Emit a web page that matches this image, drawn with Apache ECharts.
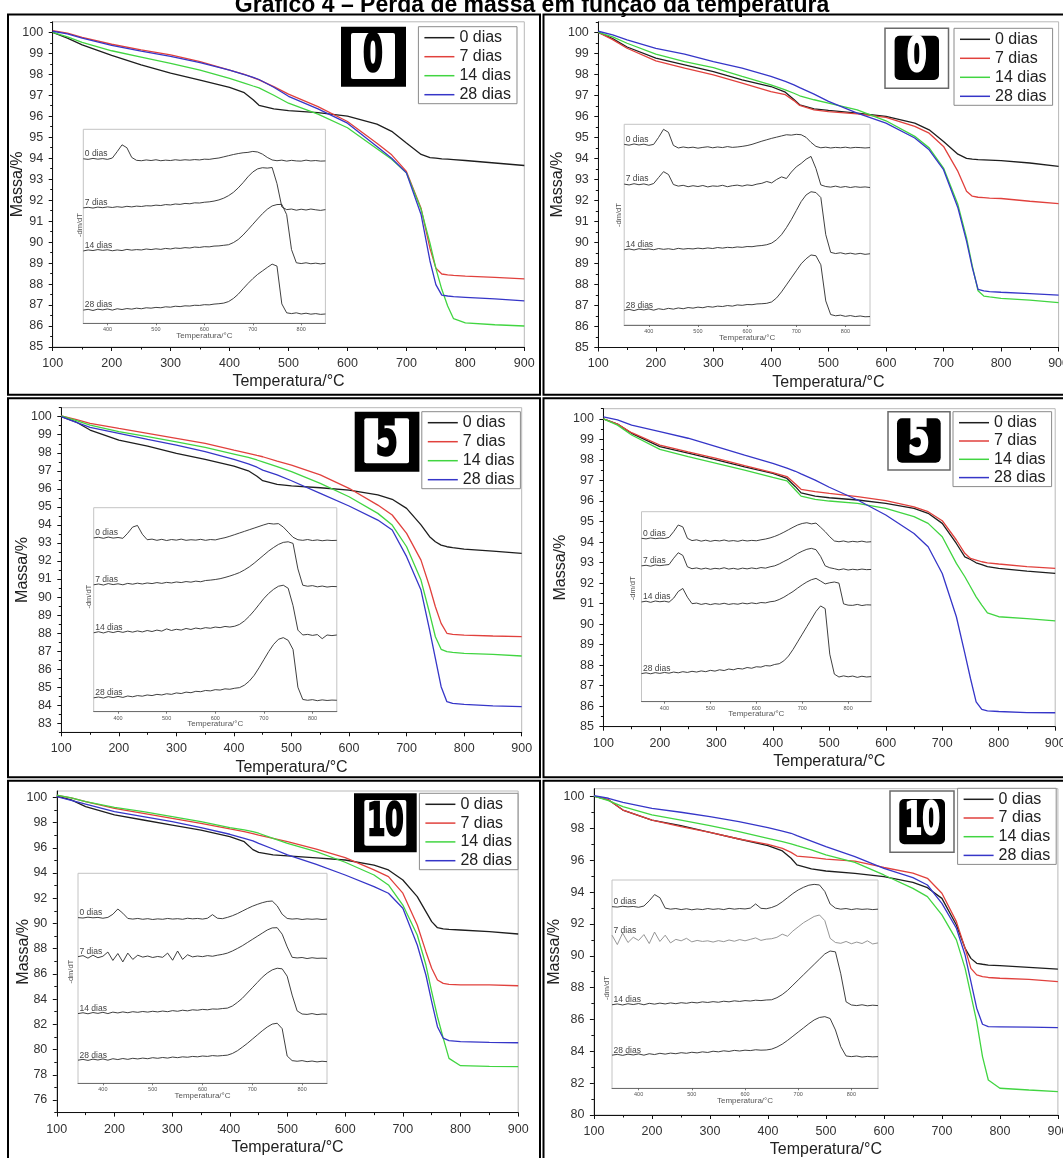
<!DOCTYPE html>
<html><head><meta charset="utf-8">
<script src="https://cdn.jsdelivr.net/npm/echarts@6/dist/echarts.min.js"></script>
<style>html,body{margin:0;padding:0;background:#fff}#c{width:1063px;height:1158px}</style>
</head><body><div id="c"></div>
<script>
// ---------------- DATA ----------------
const TITLE = 'Gráfico 4 – Perda de massa em função da temperatura';
const SERIES_NAMES = ['0 dias', '7 dias', '14 dias', '28 dias'];
const PANEL_TAGS = ['0', '0', '5', '5', '10', '10'];
const X_RANGE = [100, 900];
const INSET_X_RANGE = [350, 850];
const INSET_X_LABELS = [400, 500, 600, 700, 800];

const TGA_T = [100,125,150,200,250,300,350,400,425,440,450,475,500,550,600,650,675,700,725,740,750,760,770,780,800,850,900];

// Panel A (top left, 0)
const tgaA0 = [100.0,99.72,99.4,98.9,98.45,98.05,97.72,97.37,97.12,96.78,96.52,96.35,96.27,96.17,96.0,95.62,95.28,94.72,94.18,94.03,94.0,93.97,93.95,93.93,93.89,93.77,93.65];
const tgaA7 = [100.08,99.96,99.76,99.43,99.16,98.92,98.6,98.2,98.0,97.84,97.73,97.41,97.05,96.46,95.75,94.71,94.16,93.37,91.6,89.7,88.76,88.48,88.44,88.41,88.38,88.32,88.25];
const tgaA14 = [100.0,99.78,99.52,99.12,98.82,98.52,98.2,97.8,97.58,97.44,97.35,97.0,96.62,96.1,95.45,94.45,93.95,93.3,91.55,89.95,88.75,87.75,86.95,86.35,86.15,86.06,86.0];
const tgaA28 = [100.05,99.92,99.72,99.38,99.1,98.85,98.55,98.2,97.98,97.85,97.75,97.38,96.95,96.35,95.67,94.56,94.0,93.3,91.3,89.1,87.97,87.47,87.43,87.4,87.37,87.29,87.2];
// Panel B (top right, 0)
const tgaB0 = [100.0,99.7,99.3,98.77,98.45,98.13,97.74,97.42,97.15,96.8,96.55,96.36,96.28,96.15,96.0,95.68,95.36,94.8,94.2,94.0,93.96,93.94,93.93,93.92,93.89,93.78,93.62];
const tgaB7 = [100.0,99.65,99.24,98.64,98.29,97.97,97.58,97.18,97.03,96.75,96.52,96.31,96.23,96.12,95.95,95.52,95.2,94.57,93.38,92.44,92.2,92.15,92.13,92.11,92.09,91.96,91.85];
const tgaB14 = [100.0,99.78,99.48,98.96,98.6,98.32,97.9,97.5,97.26,97.1,96.98,96.79,96.63,96.31,95.79,95.05,94.5,93.54,91.8,90.22,88.88,87.7,87.45,87.41,87.34,87.25,87.14];
const tgaB28 = [100.05,99.88,99.64,99.24,98.96,98.6,98.29,97.9,97.66,97.5,97.37,97.06,96.71,96.15,95.68,94.97,94.41,93.46,91.65,90.06,88.8,87.77,87.69,87.66,87.63,87.56,87.49];
// Panel C (middle left, 5)
const tgaC0 = [100.0,99.72,99.26,98.7,98.37,97.97,97.63,97.26,97.0,96.7,96.45,96.25,96.16,96.06,95.93,95.66,95.42,94.92,94.0,93.35,93.07,92.88,92.79,92.74,92.66,92.55,92.42];
const tgaC7 = [100.04,99.85,99.63,99.35,99.08,98.8,98.52,98.15,97.97,97.85,97.78,97.54,97.32,96.77,96.03,95.1,94.55,93.53,92.05,90.57,89.46,88.54,87.99,87.93,87.89,87.84,87.8];
const tgaC14 = [100.04,99.8,99.54,99.17,98.89,98.61,98.3,97.93,97.74,97.6,97.5,97.23,96.95,96.3,95.56,94.64,93.99,92.79,90.94,89.1,87.8,87.1,86.97,86.93,86.88,86.82,86.73];
const tgaC28 = [100.0,99.7,99.41,99.08,98.74,98.43,98.06,97.63,97.38,97.2,97.04,96.77,96.45,95.75,95.05,94.27,93.72,92.24,90.39,88.17,86.6,85.03,84.2,84.1,84.05,83.97,83.92];
// Panel D (middle right, 5)
const tgaD0 = [100.0,99.75,99.3,98.65,98.33,98.0,97.67,97.35,97.1,96.7,96.4,96.24,96.16,96.05,95.89,95.64,95.4,94.91,93.93,93.28,93.15,92.99,92.9,92.8,92.72,92.58,92.47];
const tgaD7 = [100.0,99.75,99.33,98.73,98.4,98.08,97.72,97.38,97.19,96.83,96.57,96.46,96.37,96.21,96.02,95.72,95.48,95.04,94.1,93.45,93.2,93.12,93.04,92.99,92.93,92.8,92.72];
const tgaD14 = [100.0,99.7,99.22,98.52,98.16,97.84,97.51,97.15,96.98,96.54,96.24,96.08,96.0,95.89,95.64,95.24,94.91,94.26,92.96,92.31,91.82,91.33,90.93,90.55,90.36,90.27,90.16];
const tgaD28 = [100.1,99.95,99.7,99.38,99.06,98.65,98.24,97.84,97.6,97.45,97.32,97.02,96.67,96.05,95.32,94.42,93.77,92.47,90.36,88.57,87.35,86.21,85.84,85.77,85.74,85.69,85.68];
// Panel E (bottom left, 10)
const tgaE0 = [100.1,99.8,99.26,98.6,98.2,97.8,97.4,96.88,96.48,95.85,95.64,95.43,95.35,95.2,95.03,94.63,94.24,93.44,92.12,90.93,90.14,89.66,89.56,89.53,89.48,89.35,89.16];
const tgaE7 = [100.15,99.95,99.66,99.13,98.73,98.33,97.94,97.49,97.28,97.12,97.01,96.75,96.48,95.9,95.22,94.24,93.71,92.4,89.88,87.76,86.44,85.51,85.25,85.17,85.12,85.12,85.06];
const tgaE14 = [100.18,99.95,99.66,99.21,98.86,98.47,98.07,97.59,97.41,97.28,97.15,96.75,96.35,95.69,94.85,93.84,93.05,91.46,89.08,86.7,84.6,82.6,80.9,79.3,78.72,78.66,78.64];
const tgaE28 = [100.05,99.75,99.45,98.86,98.47,98.07,97.59,97.07,96.75,96.55,96.35,95.9,95.43,94.69,93.84,92.92,92.39,91.2,88.29,85.91,83.8,81.81,80.9,80.7,80.62,80.57,80.54];
// Panel F (bottom right, 10)
const tgaF0 = [100.04,99.8,99.16,98.53,98.18,97.76,97.34,96.92,96.59,96.13,95.71,95.46,95.33,95.18,94.97,94.62,94.28,93.61,91.94,90.47,89.84,89.53,89.47,89.42,89.38,89.28,89.17];
const tgaF7 = [100.04,99.8,99.16,98.53,98.12,97.76,97.34,97.0,96.75,96.5,96.27,96.19,96.08,95.95,95.55,95.2,94.87,93.93,92.15,90.47,89.21,88.8,88.69,88.64,88.59,88.52,88.38];
const tgaF14 = [100.04,99.75,99.37,98.85,98.53,98.18,97.8,97.38,97.17,97.04,96.92,96.65,96.34,95.87,95.08,94.24,93.72,92.57,91.0,89.21,87.54,85.86,83.67,82.2,81.68,81.57,81.47];
const tgaF28 = [100.06,99.9,99.64,99.27,99.02,98.74,98.43,98.05,97.84,97.7,97.55,97.21,96.86,96.23,95.5,94.91,94.45,93.3,91.73,90.05,88.38,86.71,85.7,85.55,85.54,85.52,85.49];

// DTG insets (arbitrary units, 0 = inset bottom, 100 = inset top)
const DTG_T = [350,360,370,380,390,400,410,420,430,440,450,460,470,480,490,500,510,520,530,540,550,560,570,580,590,600,610,620,630,640,650,660,670,680,690,700,710,720,730,740,750,760,770,780,790,800,810,820,830,840,850];

const dtgA0 = [84.8,84.5,85.0,84.6,84.9,84.5,85.2,88.5,92.0,90.5,85.5,84.0,83.8,84.2,83.9,84.3,83.8,84.1,83.9,84.3,84.0,84.3,84.1,84.4,84.2,84.6,84.5,84.9,85.2,85.8,86.4,87.0,87.5,87.9,88.1,88.6,88.3,87.2,85.5,84.2,83.8,84.1,83.6,84.0,83.7,83.6,84.1,83.7,83.9,83.6,83.7];
const dtgA7 = [59.5,59.8,59.4,59.9,59.6,60.0,59.7,60.1,59.8,60.3,60.0,60.4,60.2,60.6,60.5,60.9,60.7,61.2,61.0,61.5,61.3,61.8,61.6,62.1,62.0,62.4,62.6,63.0,63.6,64.5,65.8,67.5,69.8,72.5,75.5,78.0,79.6,80.2,80.0,80.3,72.0,60.0,58.6,58.9,58.3,58.8,58.4,58.9,58.5,58.2,58.6];
const dtgA14 = [37.3,37.8,37.5,38.0,37.6,37.9,37.4,37.8,37.5,38.1,37.7,38.0,37.8,38.3,38.0,38.4,38.1,38.6,38.3,38.8,38.6,39.0,38.8,39.3,39.1,39.5,39.4,39.8,39.9,40.2,40.5,41.6,43.2,45.5,48.2,51.0,53.8,56.5,58.8,60.5,61.2,61.3,56.0,38.0,31.2,30.8,31.2,30.7,31.0,30.6,30.9];
const dtgA28 = [6.8,7.2,6.6,7.3,6.9,7.4,6.8,7.5,7.1,7.6,7.3,7.8,7.5,8.0,7.8,8.2,8.0,8.5,8.3,8.8,8.6,9.0,8.9,9.3,9.2,9.6,9.5,9.9,10.1,10.4,11.2,12.8,15.0,17.8,20.5,23.0,25.2,27.0,28.8,30.5,29.5,10.0,5.4,5.0,5.4,4.8,5.2,4.7,5.0,4.6,4.8];

const dtgB0 = [90.0,89.6,90.2,89.7,90.1,89.5,90.0,93.5,97.5,96.0,89.5,88.2,88.7,88.3,88.6,88.1,88.5,88.8,88.3,88.7,88.4,88.9,88.5,88.7,89.0,89.4,90.0,90.8,91.6,92.3,93.0,93.6,94.2,94.8,94.6,95.0,94.8,93.5,91.0,89.0,88.3,88.6,88.2,88.5,88.3,88.6,88.2,88.5,88.4,88.2,88.4];
const dtgB7 = [70.2,69.8,70.4,69.9,70.3,69.7,70.5,73.5,76.4,75.0,70.0,69.2,69.6,68.9,69.4,69.0,69.5,68.8,69.3,69.1,69.6,68.9,69.4,69.7,69.2,69.8,69.5,70.2,70.6,71.5,70.8,72.5,73.8,73.0,76.2,78.8,80.5,82.6,84.0,78.0,69.8,69.0,68.7,69.2,68.6,69.0,68.5,68.9,68.6,68.8,68.5];
const dtgB14 = [37.5,37.9,37.4,38.0,37.6,37.9,37.5,38.1,37.7,38.0,37.6,38.2,37.8,38.1,37.9,38.3,38.0,38.4,38.1,38.6,38.3,38.7,38.5,38.9,38.7,39.1,39.0,39.4,39.6,40.0,40.8,42.5,45.0,48.5,52.5,57.0,61.5,64.8,66.4,66.0,63.5,45.0,36.2,35.6,36.0,35.4,35.8,35.3,35.7,35.2,35.5];
const dtgB28 = [7.3,7.8,7.2,7.9,7.5,8.0,7.4,8.1,7.7,8.3,7.9,8.5,8.1,8.7,8.4,8.9,8.6,9.2,8.9,9.4,9.2,9.7,9.4,10.0,9.8,10.2,10.1,10.5,10.6,10.8,11.5,13.5,16.5,20.0,23.5,27.0,30.5,33.0,34.9,34.5,30.0,12.0,5.2,4.6,4.9,4.3,4.7,4.2,4.5,4.1,4.2];

const dtgC0 = [85.2,85.5,85.0,85.6,85.1,85.4,85.0,87.5,90.5,91.3,87.0,84.3,84.6,84.0,84.5,83.9,84.4,84.1,84.6,84.0,84.3,84.1,84.5,84.0,84.4,84.2,84.8,85.3,86.0,86.8,87.6,88.4,89.2,90.0,90.8,91.6,92.3,92.0,92.2,90.5,88.0,85.5,84.3,84.0,84.4,83.9,84.2,83.8,84.1,83.9,84.0];
const dtgC7 = [62.2,62.6,62.1,62.8,62.3,62.7,62.2,62.9,62.5,63.0,62.6,63.1,62.8,63.3,62.9,63.4,63.1,63.6,63.3,63.8,63.5,64.0,63.7,64.3,64.5,64.8,65.2,65.8,66.5,67.3,68.2,69.5,71.0,72.8,74.8,76.8,78.8,80.5,82.0,83.0,83.3,82.5,70.0,62.0,61.5,61.8,61.2,61.6,61.1,61.4,61.3];
const dtgC14 = [38.7,39.2,38.6,39.3,38.8,39.4,38.9,39.5,39.0,39.6,39.1,39.8,39.3,40.0,39.5,40.6,39.8,40.4,40.0,40.8,40.3,41.0,40.6,41.2,40.9,41.5,41.2,41.8,41.5,41.9,42.8,44.5,46.8,49.5,52.5,55.5,58.0,60.0,61.5,62.0,60.5,52.0,40.0,37.6,37.9,37.4,37.8,35.8,37.6,37.3,37.6];
const dtgC28 = [6.8,7.2,6.7,7.4,6.9,7.5,7.0,7.7,7.3,7.9,7.6,8.2,7.9,8.5,8.2,8.8,8.5,9.2,8.9,9.6,9.3,10.0,9.8,10.4,10.2,10.8,10.6,11.2,11.0,11.5,11.8,13.0,15.0,17.8,21.5,25.5,29.5,33.0,35.5,36.3,35.0,30.5,12.0,6.0,5.6,5.9,5.4,5.8,5.5,5.7,5.6];

const dtgD0 = [86.0,85.7,86.2,85.8,86.1,85.9,86.5,89.5,93.0,92.0,86.0,84.8,85.2,84.5,85.0,84.4,84.9,84.6,85.1,84.5,84.8,84.4,85.0,84.6,84.9,84.7,85.2,85.6,86.2,87.0,88.0,89.2,90.5,91.8,93.0,93.8,94.2,93.6,94.0,91.8,89.5,86.8,84.6,84.2,84.6,84.0,84.4,84.1,84.5,84.0,84.2];
const dtgD7 = [71.5,71.8,71.3,72.0,71.6,71.9,72.2,75.5,78.4,77.0,71.0,70.0,70.4,69.8,70.3,69.7,70.2,69.9,70.5,69.8,70.2,69.7,70.3,69.9,70.4,70.0,70.6,70.3,71.0,71.5,72.5,73.8,75.0,76.5,78.0,79.2,80.2,80.7,80.0,76.5,71.5,70.5,70.0,69.4,69.9,69.3,69.7,69.4,69.8,69.5,69.6];
const dtgD14 = [52.5,52.9,52.3,53.0,52.6,52.9,52.4,54.5,58.0,59.6,55.0,51.6,51.9,51.2,51.7,51.1,51.6,51.3,51.8,51.2,51.6,51.3,51.9,51.5,52.0,51.6,52.2,52.0,52.6,52.9,53.8,55.0,56.5,58.0,59.8,61.5,63.0,64.2,64.9,63.5,62.0,62.6,63.0,62.4,51.5,50.8,50.7,51.2,50.6,51.0,50.9];
const dtgD28 = [14.8,15.2,14.7,15.3,14.9,15.4,15.0,15.6,15.2,15.8,15.4,16.0,15.6,16.2,15.8,16.5,16.1,16.8,16.4,17.2,16.8,17.5,17.2,18.0,17.6,18.4,18.2,19.0,18.8,19.6,20.0,21.5,24.0,27.5,31.5,35.5,39.5,43.5,47.5,50.4,49.0,25.0,14.5,13.0,13.6,13.1,13.5,12.8,13.4,13.0,13.2];

const dtgE0 = [78.9,78.7,79.1,78.8,79.0,78.6,79.0,80.5,83.0,81.0,78.5,78.2,78.5,78.1,78.4,78.0,78.3,78.1,78.5,78.2,78.4,78.1,78.6,78.3,78.5,78.2,78.6,80.3,78.6,78.4,79.0,79.8,80.8,82.0,83.2,84.3,85.2,86.0,86.6,86.8,84.5,80.5,78.5,78.2,78.4,78.0,78.3,78.1,78.3,78.0,78.2];
const dtgE7 = [60.3,60.8,59.6,61.0,59.8,60.5,62.5,58.5,61.8,57.8,62.0,59.0,61.0,60.1,60.6,59.9,60.4,60.0,62.0,58.6,63.0,59.0,61.2,60.2,60.6,60.3,60.8,60.5,61.0,61.4,62.0,63.0,64.2,65.5,67.0,68.5,70.0,71.5,73.0,74.0,74.1,71.0,65.0,60.0,59.7,59.9,59.4,59.8,59.5,59.6,59.5];
const dtgE14 = [33.2,33.6,33.1,33.7,33.3,33.8,33.2,33.9,33.5,34.0,33.6,34.1,33.8,34.2,33.9,34.3,34.0,34.4,34.1,34.6,34.3,34.8,34.5,35.0,34.8,35.2,35.0,35.4,35.3,35.6,35.8,36.8,38.5,40.5,43.0,45.5,48.0,50.5,52.5,54.0,54.8,54.5,51.0,42.0,34.5,33.0,32.8,33.2,32.7,33.0,32.9];
const dtgE28 = [11.0,11.4,10.9,11.5,11.1,11.6,11.0,11.7,11.3,11.8,11.4,11.9,11.6,12.0,11.7,12.2,11.9,12.3,12.0,12.5,12.2,12.6,12.4,12.8,12.6,13.0,12.8,13.2,13.0,13.2,13.4,14.2,15.5,17.2,19.0,21.0,23.0,25.0,26.8,28.2,28.6,26.0,13.0,10.8,10.5,10.8,10.3,10.6,10.2,10.5,10.3];

const dtgF0 = [87.2,87.0,87.4,87.1,87.3,86.9,87.5,90.0,93.0,91.5,86.5,86.0,86.3,85.8,86.2,85.7,86.1,85.8,86.3,85.9,86.2,85.8,86.4,86.0,86.3,86.1,86.5,88.5,86.4,86.2,86.8,87.8,89.5,91.5,93.5,95.2,96.5,97.5,97.9,97.6,94.5,88.5,86.5,86.0,86.3,85.8,86.2,85.9,86.1,85.8,86.0];
const dtgF7 = [73.5,69.0,74.5,70.0,72.5,71.0,73.8,69.5,75.0,70.5,73.5,69.8,71.5,70.8,72.0,70.3,71.0,70.5,70.8,70.2,70.9,70.4,71.2,70.6,71.4,70.8,71.5,72.2,71.0,71.6,71.8,72.5,74.0,73.0,75.5,77.5,79.5,81.0,82.5,83.2,80.5,72.0,70.0,69.6,70.5,69.4,70.2,69.5,70.8,69.3,69.8];
const dtgF14 = [40.1,40.5,40.0,40.6,40.2,40.7,40.1,40.8,40.4,40.9,40.5,41.0,40.6,41.1,40.8,41.3,41.0,41.5,41.2,41.6,41.3,41.8,41.5,42.0,41.7,42.1,41.9,42.3,42.1,42.4,42.5,43.5,45.0,47.0,49.5,52.0,54.5,57.0,59.5,62.0,64.5,65.9,65.5,55.0,41.5,40.0,39.7,40.1,39.6,39.9,39.7];
const dtgF28 = [15.9,16.3,15.8,16.4,16.0,16.5,15.9,16.6,16.2,16.8,16.4,16.9,16.6,17.1,16.8,17.3,17.0,17.5,17.2,17.8,17.5,18.0,17.7,18.2,17.9,18.3,18.1,18.5,18.3,18.4,18.8,19.8,21.2,23.0,25.0,27.0,29.0,31.0,32.8,34.0,34.4,33.5,28.0,20.0,15.5,15.2,15.5,15.0,15.3,15.1,15.2];

// y-axis ranges and tick labels
const yRangeA = [85, 100.5], yLabelsA = [85,86,87,88,89,90,91,92,93,94,95,96,97,98,99,100];
const yRangeB = [85, 100.5], yLabelsB = [85,86,87,88,89,90,91,92,93,94,95,96,97,98,99,100];
const yRangeC = [82.5, 100.5], yLabelsC = [83,84,85,86,87,88,89,90,91,92,93,94,95,96,97,98,99,100];
const yRangeD = [85, 100.5], yLabelsD = [85,86,87,88,89,90,91,92,93,94,95,96,97,98,99,100];
const yRangeE = [75, 100.5], yLabelsE = [76,78,80,82,84,86,88,90,92,94,96,98,100];
const yRangeF = [80, 100.5], yLabelsF = [80,82,84,86,88,90,92,94,96,98,100];

// ---------------- LAYOUT / STYLE ----------------
const FONT = '"Liberation Sans", Arial, sans-serif';
const TAG_FONT = '"DejaVu Sans", sans-serif';
const COLORS = ['#1e1e1e', '#e1413d', '#41d541', '#3636c8'];
const DTG_COLOR = ['#2a2a2a', '#2a2a2a', '#2a2a2a', '#2a2a2a'];

const PANELS = [
  {tga:[tgaA0,tgaA7,tgaA14,tgaA28], dtg:[dtgA0,dtgA7,dtgA14,dtgA28], yr:yRangeA, yl:yLabelsA},
  {tga:[tgaB0,tgaB7,tgaB14,tgaB28], dtg:[dtgB0,dtgB7,dtgB14,dtgB28], yr:yRangeB, yl:yLabelsB},
  {tga:[tgaC0,tgaC7,tgaC14,tgaC28], dtg:[dtgC0,dtgC7,dtgC14,dtgC28], yr:yRangeC, yl:yLabelsC},
  {tga:[tgaD0,tgaD7,tgaD14,tgaD28], dtg:[dtgD0,dtgD7,dtgD14,dtgD28], yr:yRangeD, yl:yLabelsD},
  {tga:[tgaE0,tgaE7,tgaE14,tgaE28], dtg:[dtgE0,dtgE7,dtgE14,dtgE28], yr:yRangeE, yl:yLabelsE},
  {tga:[tgaF0,tgaF7,tgaF14,tgaF28], dtg:[dtgF0,dtgF7,dtgF14,dtgF28], yr:yRangeF, yl:yLabelsF}
];

const LAYOUT = [
  {grid:[52.7,21.8,471.6,325.2], inset:[83.3,129.3,242.1,194], yGap:27, legend:[418.4,26.7], lgGap:3,
   tagBox:[341,26.7,65,60], tagInner:[351,33,44,46], dark:false, tagFs:52, tagSx:0.55, dmdt:[80,225]},
  {grid:[598.3,21.8,460.3,325.7], inset:[624.2,124.3,245.8,200.7], yGap:33, legend:[954,28.3], lgGap:3,
   tagBox:[885,28.3,63.5,60], tagInner:[894.6,35.7,44.4,44.3], dark:true, tagFs:48, tagSx:0.6, dmdt:[618.5,215]},
  {grid:[61.3,407.7,460.4,324.6], inset:[93.7,507.7,243.1,204], yGap:31, legend:[421.8,411.7], lgGap:3,
   tagBox:[354.7,411.7,64.7,60], tagInner:[364.3,418.3,44.7,45], dark:false, tagFs:52, tagSx:0.62, dmdt:[88.8,596.7]},
  {grid:[603.4,408.7,451.8,318], inset:[641.5,511.7,229.6,190], yGap:35, legend:[953,411.7], lgGap:2.3,
   tagBox:[888,411.7,62,58.3], tagInner:[897,418.3,43.7,44.4], dark:true, tagFs:48, tagSx:0.66, dmdt:[632.6,588.3]},
  {grid:[56.8,791,461.4,321.6], inset:[78,873.3,249,210], yGap:25, legend:[419.4,793.3], lgGap:2.8,
   tagBox:[354,793.3,62.7,59], tagInner:[364.3,800,42,45.7], dark:false, tagFs:44, tagSx:0.6, dmdt:[70.6,971.7]},
  {grid:[593.9,788.7,464,326.3], inset:[612,880,266,208.3], yGap:31, legend:[957.6,788.3], lgGap:2.7,
   tagBox:[890,791,64,61.3], tagInner:[899.3,799,45.7,45.3], dark:true, tagFs:44, tagSx:0.58, dmdt:[607,988]}
];
const CELLS = [
  [8,14.5,532,380.2],[543.5,14.5,530,380.2],
  [8,398.2,532,379.1],[543.5,398.2,530,379.1],
  [8,780.7,532,400],[543.5,780.7,530,400]
];

// ---------------- CHECK ----------------
PANELS.forEach((p,k)=>{
  p.tga.forEach((a,j)=>{ if(a.length!==TGA_T.length) throw new Error('tga panel '+k+' series '+j+' len '+a.length); });
  p.dtg.forEach((a,j)=>{ if(a.length!==DTG_T.length) throw new Error('dtg panel '+k+' series '+j+' len '+a.length); });
});

// ---------------- BUILD ----------------
function minorTicks(labels, range){
  const out = [];
  const step = labels[1]-labels[0];
  if (labels[0]-step/2 >= range[0]) out.push(labels[0]-step/2);
  for (let i=0;i<labels.length-1;i++) out.push((labels[i]+labels[i+1])/2);
  if (labels[labels.length-1]+step/2 <= range[1]+1e-9) out.push(labels[labels.length-1]+step/2);
  return out;
}

const chart = echarts.init(document.getElementById('c'), null, {renderer:'canvas'});
const option = {animation:false, backgroundColor:'#ffffff', grid:[], xAxis:[], yAxis:[], series:[], legend:[]};
const dtgSeriesIdx = [];
const axisLineStyle = {color:'#111', width:1};

PANELS.forEach((p,k)=>{
  const L = LAYOUT[k];
  // main grid
  const gi = option.grid.length;
  option.grid.push({left:L.grid[0], top:L.grid[1], width:L.grid[2], height:L.grid[3], show:true,
    borderColor:'#b8b8b8', borderWidth:1, backgroundColor:'transparent', containLabel:false, outerBoundsMode:'none'});
  const xi = option.xAxis.length;
  option.xAxis.push({type:'value', gridIndex:gi, min:X_RANGE[0], max:X_RANGE[1], interval:100,
    name:'Temperatura/°C', nameLocation:'middle', nameGap:27, nameMoveOverlap:false,
    nameTextStyle:{fontSize:16, color:'#222', fontFamily:FONT},
    axisLine:{show:true, onZero:false, lineStyle:axisLineStyle},
    axisTick:{show:true, length:4, lineStyle:axisLineStyle},
    minorTick:{show:true, splitNumber:2, length:2.5, lineStyle:axisLineStyle},
    axisLabel:{fontSize:12.5, color:'#333', margin:10, fontFamily:FONT},
    splitLine:{show:false}, minorSplitLine:{show:false}});
  const yi = option.yAxis.length;
  option.yAxis.push({type:'value', gridIndex:gi, position:'left', min:p.yr[0], max:p.yr[1],
    name:'Massa/%', nameLocation:'middle', nameRotate:90, nameGap:L.yGap, nameMoveOverlap:false,
    nameTextStyle:{fontSize:16, color:'#222', fontFamily:FONT},
    axisLine:{show:true, onZero:false, lineStyle:axisLineStyle},
    axisTick:{show:true, length:4, lineStyle:axisLineStyle, customValues:p.yl},
    axisLabel:{fontSize:12.5, color:'#333', margin:9.5, fontFamily:FONT, customValues:p.yl},
    splitLine:{show:false}});
  option.yAxis.push({type:'value', gridIndex:gi, position:'left', offset:0, min:p.yr[0], max:p.yr[1],
    axisLine:{show:false}, axisTick:{show:true, length:2.5, lineStyle:axisLineStyle, customValues:minorTicks(p.yl,p.yr)},
    axisLabel:{show:false}, splitLine:{show:false}});
  p.tga.forEach((arr,j)=>{
    option.series.push({type:'line', name:SERIES_NAMES[j], xAxisIndex:xi, yAxisIndex:yi,
      data:TGA_T.map((t,i)=>[t,arr[i]]), showSymbol:false, symbol:'none', silent:true,
      lineStyle:{color:COLORS[j], width:1.3}, itemStyle:{color:COLORS[j]}, z:3});
  });
  // inset
  const ig = option.grid.length;
  option.grid.push({left:L.inset[0], top:L.inset[1], width:L.inset[2], height:L.inset[3], show:true,
    borderColor:'#c4c4c4', borderWidth:1, backgroundColor:'transparent', containLabel:false, outerBoundsMode:'none'});
  const ixi = option.xAxis.length;
  option.xAxis.push({type:'value', gridIndex:ig, min:INSET_X_RANGE[0], max:INSET_X_RANGE[1],
    name:'Temperatura/°C', nameLocation:'middle', nameGap:8.5, nameMoveOverlap:false,
    nameTextStyle:{fontSize:8, color:'#555', fontFamily:FONT},
    axisLine:{show:true, onZero:false, lineStyle:{color:'#555', width:0.8}},
    axisTick:{show:true, length:2, lineStyle:{color:'#555', width:0.8}, customValues:INSET_X_LABELS},
    axisLabel:{fontSize:5.5, color:'#555', margin:3.5, fontFamily:FONT, customValues:INSET_X_LABELS},
    splitLine:{show:false}});
  const iyi = option.yAxis.length;
  option.yAxis.push({type:'value', gridIndex:ig, min:0, max:100, show:false, splitLine:{show:false}});
  const idxs = [];
  p.dtg.forEach((arr,j)=>{
    idxs.push(option.series.length);
    option.series.push({type:'line', name:'dtg'+k+'_'+j, xAxisIndex:ixi, yAxisIndex:iyi,
      data:DTG_T.map((t,i)=>[t,arr[i]]), showSymbol:false, symbol:'none', silent:true,
      lineStyle:{color:(k===5&&j===1)?'#8a8a8a':DTG_COLOR[j], width:0.9}, z:3});
  });
  dtgSeriesIdx.push(idxs);
  // legend
  option.legend.push({orient:'vertical', left:L.legend[0], top:L.legend[1], data:SERIES_NAMES,
    icon:'rect', itemWidth:30, itemHeight:1.5, itemGap:L.lgGap, padding:[3,6,1,6],
    borderColor:'#8a8a8a', borderWidth:1, backgroundColor:'#fff', selectedMode:false,
    textStyle:{fontSize:16, color:'#222', fontFamily:FONT, lineHeight:16}});
});

chart.setOption(option);

// ---------------- GRAPHIC ----------------
const G = [];
G.push({type:'text', x:532, y:17, z:50, style:{text:TITLE, fontSize:23, fontWeight:'bold', fontFamily:FONT,
  fill:'#000', align:'center', verticalAlign:'bottom'}});
CELLS.forEach(c=>G.push({type:'rect', z:50, shape:{x:c[0],y:c[1],width:c[2],height:c[3]},
  style:{fill:'none', stroke:'#000', lineWidth:2}}));
PANELS.forEach((p,k)=>{
  const L = LAYOUT[k];
  const b = L.tagBox, n = L.tagInner;
  const cx = n[0]+n[2]/2, cy = n[1]+n[3]/2+1;
  if (!L.dark) {
    G.push({type:'rect', z:40, shape:{x:b[0],y:b[1],width:b[2],height:b[3]}, style:{fill:'#000'}});
    G.push({type:'rect', z:41, shape:{x:n[0],y:n[1],width:n[2],height:n[3],r:2}, style:{fill:'#fff'}});
    G.push({type:'text', z:42, x:cx, y:cy, scaleX:L.tagSx, style:{text:PANEL_TAGS[k], fontSize:L.tagFs, fontWeight:'bold',
      fontFamily:TAG_FONT, fill:'#000', stroke:'#000', lineWidth:2.5, align:'center', verticalAlign:'middle'}});
  } else {
    G.push({type:'rect', z:40, shape:{x:b[0],y:b[1],width:b[2],height:b[3]}, style:{fill:'#fff', stroke:'#6a6a6a', lineWidth:1.5}});
    G.push({type:'rect', z:41, shape:{x:n[0],y:n[1],width:n[2],height:n[3],r:5}, style:{fill:'#000'}});
    G.push({type:'text', z:42, x:cx, y:cy, scaleX:L.tagSx, style:{text:PANEL_TAGS[k], fontSize:L.tagFs, fontWeight:'bold',
      fontFamily:TAG_FONT, fill:'#fff', stroke:'#fff', lineWidth:2, align:'center', verticalAlign:'middle'}});
  }
  // -dm/dT label
  G.push({type:'text', z:42, x:L.dmdt[0], y:L.dmdt[1], rotation:Math.PI/2, style:{text:'-dm/dT', fontSize:7.5,
    fontFamily:FONT, fill:'#555', align:'center', verticalAlign:'middle'}});
  // DTG curve labels at each curve's start
  p.dtg.forEach((arr,j)=>{
    const pt = chart.convertToPixel({seriesIndex:dtgSeriesIdx[k][j]}, [DTG_T[0], arr[0]]);
    G.push({type:'text', z:42, x:pt[0]+1.5, y:pt[1]-5, style:{text:SERIES_NAMES[j], fontSize:8.5, fontFamily:FONT,
      fill:'#444', align:'left', verticalAlign:'middle'}});
  });
});
chart.setOption({graphic:G});
</script>
</body></html>
